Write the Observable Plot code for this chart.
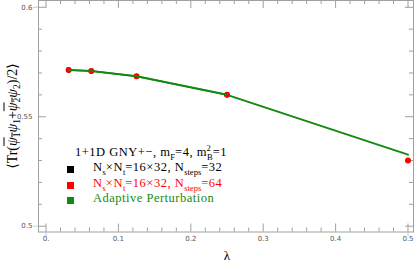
<!DOCTYPE html>
<html><head><meta charset="utf-8">
<script src="https://cdn.jsdelivr.net/npm/d3@7"></script>
<script src="https://cdn.jsdelivr.net/npm/@observablehq/plot@0.6"></script>
<style>
body{margin:0;background:#fff;}
#wrap{position:relative;width:415px;height:265px;overflow:hidden;}
.serif{font-family:"Liberation Serif","DejaVu Serif",serif;}
#ylab{position:absolute;left:12px;top:116px;transform:translate(-50%,-50%) rotate(-90deg);white-space:nowrap;font-size:14px;}
#xlab{position:absolute;left:227px;top:256px;transform:translate(-50%,-50%);font-size:13px;}
.lg{position:absolute;white-space:nowrap;font-size:12.5px;letter-spacing:0.5px;line-height:1;}
.sq{position:absolute;width:7px;height:7px;}
sub,sup{font-size:68%;line-height:0;letter-spacing:0;}
.ol{text-decoration:overline;}
</style></head>
<body><div id="wrap"></div>
<script>
// data
const lambdas = [0.03125, 0.0625, 0.125, 0.25, 0.5];
const nsteps64 = [0.5714, 0.5709, 0.5685, 0.5600, 0.5300];
const nsteps32 = [0.5714, 0.5709, 0.5685, 0.5600];
const adaptive = [0.5714, 0.5709, 0.5685, 0.5600, 0.5327];
const xMajor = [0, 0.1, 0.2, 0.3, 0.4, 0.5];
const xMinor = d3.range(0, 0.5001, 0.02).filter(v => Math.abs(v*10 - Math.round(v*10)) > 1e-6);
const yMajor = [0.5, 0.55, 0.6];
const yMinor = d3.range(0.5, 0.6001, 0.01).filter(v => Math.abs(v*20 - Math.round(v*20)) > 1e-6);
const xLabels = ["0.", "0.1", "0.2", "0.3", "0.4", "0.5"];
const yLabels = ["0.5", "0.55", "0.6"];

const adaptiveData = lambdas.map((x, i) => ({x, y: adaptive[i]}));
const d64 = lambdas.map((x, i) => ({x, y: nsteps64[i]}));
const d32 = nsteps32.map((y, i) => ({x: lambdas[i], y}));

const W = 415, H = 265, mt = 0, mb = 33.5, ml = 38, mr = 2;
const innerH = H - mt - mb, innerW = W - ml - mr;
const frameC = "#a0a0a0";
const green = "#128a12", red = "#ff0000";

const chart = Plot.plot({
  width: W, height: H,
  marginTop: mt, marginBottom: mb, marginLeft: ml, marginRight: mr,
  style: {fontFamily: "DejaVu Sans, sans-serif", fontSize: "7px", color: "#666", background: "#fff"},
  x: {domain: [-0.0104, 0.5076], axis: null},
  y: {domain: [0.49735, 0.6031], axis: null},
  marks: [
    Plot.tickX(xMajor, {x: d => d, insetTop: innerH - 8, stroke: frameC}),
    Plot.tickX(xMajor, {x: d => d, insetBottom: innerH - 8, stroke: frameC}),
    Plot.tickX(xMinor, {x: d => d, insetTop: innerH - 4, stroke: frameC}),
    Plot.tickX(xMinor, {x: d => d, insetBottom: innerH - 4, stroke: frameC}),
    Plot.tickY(yMajor, {y: d => d, insetRight: innerW - 8, stroke: frameC}),
    Plot.tickY(yMajor, {y: d => d, insetLeft: innerW - 8, stroke: frameC}),
    Plot.tickY(yMinor, {y: d => d, insetRight: innerW - 4, stroke: frameC}),
    Plot.tickY(yMinor, {y: d => d, insetLeft: innerW - 4, stroke: frameC}),
    Plot.tickX([0, 0.5], {x: d => d, insetTop: innerH - 1, insetBottom: -5, stroke: "#ccc"}),
    Plot.tickY([0.5, 0.6], {y: d => d, insetLeft: -5, insetRight: innerW - 1, stroke: "#ccc"}),
    Plot.axisX(xMajor, {anchor: "bottom", tickSize: 0, tickPadding: 4, tickFormat: (d, i) => xLabels[i], fill: "#555", label: null}),
    Plot.axisY(yMajor, {anchor: "left", tickSize: 0, tickPadding: 6, tickFormat: (d, i) => yLabels[i], fill: "#555", label: null}),
    Plot.frame({stroke: frameC}),
    Plot.line(adaptiveData, {x: "x", y: "y", stroke: green, strokeWidth: 2}),
    Plot.dot(d32, {x: "x", y: "y", fill: "black", r: 2.6}),
    Plot.dot(d64, {x: "x", y: "y", fill: red, r: 3}),
    Plot.line(adaptiveData.slice(0, 4), {x: "x", y: "y", stroke: green, strokeWidth: 1.5})
  ]
});
const wrap = document.getElementById("wrap");
wrap.appendChild(chart);

function add(html, cls, style) {
  const el = document.createElement("div");
  el.className = cls;
  el.setAttribute("style", style);
  el.innerHTML = html;
  wrap.appendChild(el);
  return el;
}
const yl = add('⟨Tr(<span class="ol"><i>ψ</i><sub>1</sub></span><i>ψ</i><sub>1</sub>+<span class="ol"><i>ψ</i><sub>2</sub></span><i>ψ</i><sub>2</sub>)/2⟩', "serif", "");
yl.id = "ylab";
const xl = add("λ", "serif", ""); xl.id = "xlab";

// legend
add('1+1D GNY+−, m<sub>F</sub>=4, m<sub>B</sub><sup style="margin-left:-6px;margin-right:2px">2</sup>=1', "lg serif", "left:75px;top:146px;color:#000");
const rows = [
  {html: 'N<sub>s</sub>×N<sub>t</sub>=16×32, N<sub>steps</sub>=32', color: "#000"},
  {html: 'N<sub>s</sub>×N<sub>t</sub>=16×32, N<sub>steps</sub>=64', color: red},
  {html: 'Adaptive Perturbation', color: green}
];
rows.forEach((r, i) => {
  add("", "sq", `left:67px;top:${166 + i * 15.5}px;background:${r.color}`);
  add(r.html, "lg serif", `left:93px;top:${161 + i * 15.5}px;color:${r.color}`);
});
</script>
</body></html>
